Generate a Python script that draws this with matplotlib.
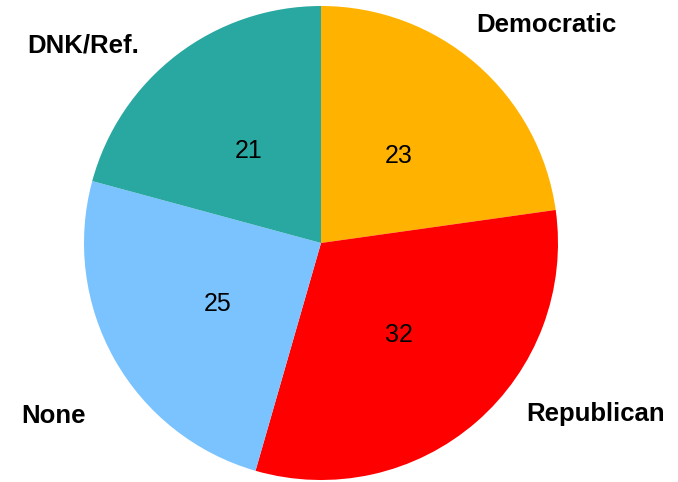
import matplotlib.pyplot as plt

plt.rcParams["font.family"] = ["Liberation Sans", "DejaVu Sans"]

# Données
PARTIS = ["Democratic", "Republican", "None", "DNK/Ref."]
VALEURS = [23, 32, 25, 21]
COULEURS = ["#FFB300", "#FF0000", "#7AC3FF", "#29A8A2"]

W, H = 678, 482
fig = plt.figure(figsize=(W / 100, H / 100), dpi=100)

# centre du camembert ~ (321, 243) px, rayon ~237 px
cx, cy, r = 321, 243, 237
ax = fig.add_axes([(cx - r) / W, (H - cy - r) / H, 2 * r / W, 2 * r / H])

total = sum(VALEURS)
wedges, textes, pcts = ax.pie(
    VALEURS,
    colors=COULEURS,
    startangle=90,
    counterclock=False,
    autopct=lambda p: f"{p * total / 100:.0f}",
    pctdistance=0.5,
    textprops={"fontsize": 18, "color": "black"},
    wedgeprops={"linewidth": 0},
)
for t in pcts:
    t.set_va("center_baseline")

ax.set_xlim(-1, 1)
ax.set_ylim(-1, 1)
ax.set_aspect("equal")
ax.axis("off")

# étiquettes extérieures (x centre, ligne de base) en pixels
POS_LABELS = {
    "Democratic": (546, 32),
    "Republican": (596, 421),
    "None": (53, 423),
    "DNK/Ref.": (83, 52),
}
for nom in PARTIS:
    x, y = POS_LABELS[nom]
    fig.text(x / W, 1 - y / H, nom, ha="center", va="baseline",
             fontsize=18.5, fontweight="bold")

fig.savefig("out.png", dpi=100, facecolor="white")
